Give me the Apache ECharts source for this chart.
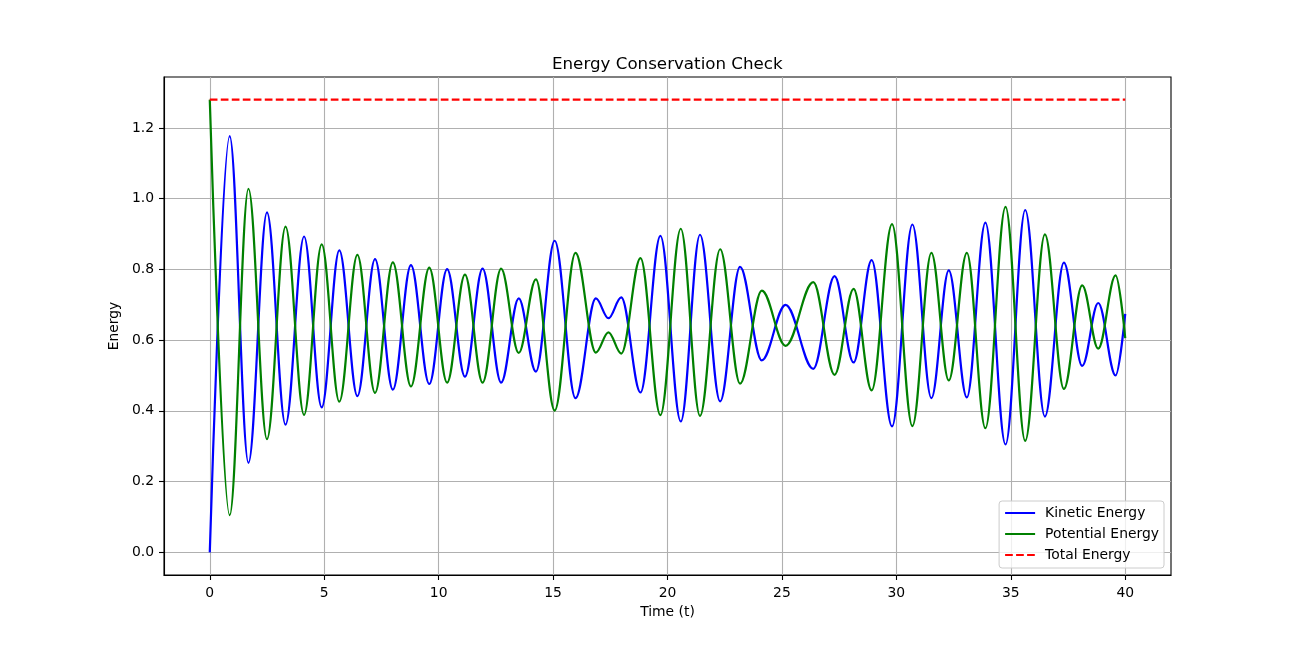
<!DOCTYPE html>
<html>
<head>
<meta charset="utf-8">
<script src="https://cdn.jsdelivr.net/npm/echarts@6/dist/echarts.min.js"></script>
<style>
  html, body { margin: 0; padding: 0; background: #fff; }
  #chart { width: 1301px; height: 646px; }
</style>
</head>
<body>
<div id="chart"></div>
<script>
// times of the turning points
const timePoints = [0, 0.87, 1.69, 2.50, 3.31, 4.12, 4.89, 5.66, 6.45, 7.22, 8.00, 8.79, 9.59, 10.37, 11.15, 11.92, 12.73, 13.50, 14.25, 15.07, 15.98, 16.87, 17.42, 17.98, 18.82, 19.69, 20.58, 21.42, 22.30, 23.17, 24.12, 25.16, 26.37, 27.30, 28.13, 28.92, 29.81, 30.70, 31.53, 32.29, 33.08, 33.89, 34.77, 35.63, 36.49, 37.32, 38.12, 38.82, 39.58, 40];
const kineticValues = [0, 1.177, 0.253, 0.961, 0.361, 0.893, 0.410, 0.854, 0.442, 0.829, 0.460, 0.812, 0.476, 0.801, 0.497, 0.802, 0.480, 0.718, 0.511, 0.881, 0.436, 0.718, 0.662, 0.721, 0.452, 0.895, 0.370, 0.898, 0.427, 0.807, 0.543, 0.700, 0.519, 0.781, 0.537, 0.826, 0.356, 0.927, 0.436, 0.797, 0.438, 0.932, 0.305, 0.968, 0.384, 0.819, 0.527, 0.705, 0.500, 0.674];
const potentialValues = [1.28, 0.105, 1.028, 0.320, 0.921, 0.389, 0.871, 0.426, 0.841, 0.451, 0.820, 0.469, 0.805, 0.480, 0.785, 0.480, 0.802, 0.564, 0.772, 0.401, 0.847, 0.565, 0.622, 0.562, 0.832, 0.388, 0.915, 0.386, 0.857, 0.477, 0.740, 0.584, 0.764, 0.502, 0.745, 0.458, 0.928, 0.357, 0.847, 0.486, 0.847, 0.351, 0.977, 0.315, 0.899, 0.462, 0.755, 0.576, 0.783, 0.606];
const totalTime = [0, 40];
const totalValues = [1.28, 1.28];

const xTicks = [0, 5, 10, 15, 20, 25, 30, 35, 40];
const yTicks = [0, 0.2, 0.4, 0.6, 0.8, 1.0, 1.2];

const font = 'DejaVu Sans';
const chart = echarts.init(document.getElementById('chart'));

function pairs(xs, ys) {
    return xs.map((x, i) => [x, ys[i]]);
}

let option = {
    animation: false,
    backgroundColor: '#fff',
    title: {
        text: 'Energy Conservation Check',
        left: 552,
        top: 56,
        padding: 0,
        textStyle: { fontFamily: font, fontSize: 16.7, fontWeight: 'normal', color: '#000' }
    },
    grid: {
        left: 164, top: 77, width: 1007, height: 498,
        show: true, borderColor: '#000', borderWidth: 1.1, backgroundColor: '#fff'
    },
    legend: {
        orient: 'vertical',
        right: 137,
        bottom: 78,
        padding: [5, 5, 6, 5],
        itemWidth: 30,
        itemHeight: 14,
        itemGap: 7,
        backgroundColor: 'rgba(255,255,255,0.8)',
        borderColor: '#cccccc',
        borderWidth: 1,
        borderRadius: 3,
        itemStyle: { opacity: 0 },
        textStyle: { fontFamily: font, fontSize: 13.9, color: '#000', padding: [0, 0, 0, 5] },
        data: ['Kinetic Energy', 'Potential Energy', 'Total Energy']
    },
    xAxis: {
        type: 'value',
        min: -2,
        max: 42,
        name: 'Time (t)',
        nameLocation: 'middle',
        nameGap: 30,
        nameTextStyle: { fontFamily: font, fontSize: 13.9, color: '#000' },
        axisLine: { onZero: false, lineStyle: { color: '#000', width: 1.1 } },
        axisTick: { show: true, length: 5, lineStyle: { color: '#000', width: 1.1 }, customValues: xTicks },
        axisLabel: { fontFamily: font, fontSize: 13.9, color: '#000', margin: 11, customValues: xTicks },
        splitLine: { show: true, lineStyle: { color: '#b0b0b0', width: 1.1 } }
    },
    yAxis: {
        type: 'value',
        min: -0.064,
        max: 1.344,
        name: 'Energy',
        nameLocation: 'middle',
        nameGap: 35,
        nameRotate: 90,
        nameTextStyle: { fontFamily: font, fontSize: 13.9, color: '#000' },
        axisLine: { show: true, onZero: false, lineStyle: { color: '#000', width: 1.1 } },
        axisTick: { show: true, length: 5, lineStyle: { color: '#000', width: 1.1 }, customValues: yTicks },
        axisLabel: {
            fontFamily: font, fontSize: 13.9, color: '#000', margin: 10, customValues: yTicks,
            formatter: (v) => v.toFixed(1)
        },
        splitLine: { show: true, lineStyle: { color: '#b0b0b0', width: 1.1 } }
    },
    series: [
        {
            name: 'Kinetic Energy',
            type: 'line',
            data: pairs(timePoints, kineticValues),
            showSymbol: false,
            symbol: 'none',
            smooth: 0.36,
            smoothMonotone: 'x',
            color: '#0000ff',
            lineStyle: { color: '#0000ff', width: 2.2 }
        },
        {
            name: 'Potential Energy',
            type: 'line',
            data: pairs(timePoints, potentialValues),
            showSymbol: false,
            symbol: 'none',
            smooth: 0.36,
            smoothMonotone: 'x',
            color: '#008000',
            lineStyle: { color: '#008000', width: 2.2 }
        },
        {
            name: 'Total Energy',
            type: 'line',
            data: pairs(totalTime, totalValues),
            showSymbol: false,
            symbol: 'none',
            color: '#ff0000',
            lineStyle: { color: '#ff0000', width: 2.2, type: [7.7, 3.3] }
        }
    ]
};
chart.setOption(option);
</script>
</body>
</html>
